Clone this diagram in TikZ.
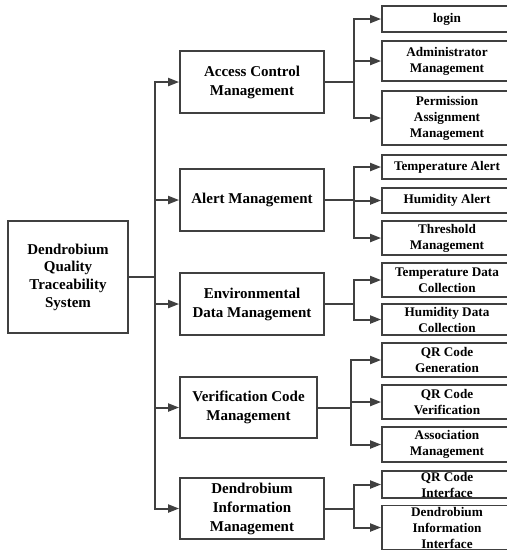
\documentclass[tikz,border=0pt]{standalone}
\usepackage{fontspec}
\setmainfont{Liberation Serif}
\usetikzlibrary{arrows.meta,positioning}

\begin{document}
\begin{tikzpicture}[
    x=1pt, y=-1pt,
    root/.style={rectangle, draw=black!75, line width=1.8pt, minimum width=120pt, minimum height=112pt, align=center, inner sep=0pt, font=\fontsize{15}{17.7}\selectfont\bfseries},
    module/.style={rectangle, draw=black!75, line width=1.8pt, minimum width=144pt, minimum height=62pt, align=center, inner sep=0pt, font=\fontsize{15}{19}\selectfont\bfseries},
    leaf/.style={rectangle, draw=black!75, line width=1.8pt, minimum width=130pt, align=center, inner sep=0pt, font=\fontsize{13.2}{16}\selectfont\bfseries},
    arr/.style={-{Triangle[length=11pt,width=8pt]}, line width=2pt, draw=black!75}
]
\useasboundingbox (0,0) rectangle (507,550);
\clip (0,0) rectangle (507,550);
% root
\node[root] (sys) at (68,277) {Dendrobium\\Quality\\Traceability\\System};
% modules
\node[module] (access) at (252,82) {Access Control\\Management};
\node[module] (alert) at (252,200) {Alert Management};
\node[module] (env) at (252,304) {Environmental\\Data Management};
\node[module, minimum width=137pt, minimum height=61pt] (verify) at (248.5,407.5) {Verification Code\\Management};
\node[module, minimum height=61pt] (info) at (252,508.5) {Dendrobium\\Information\\Management};
\draw[arr] (sys.east) -- ++(26,0) |- (access.west);
\draw[arr] (sys.east) -- ++(26,0) |- (alert.west);
\draw[arr] (sys.east) -- ++(26,0) |- (env.west);
\draw[arr] (sys.east) -- ++(26,0) |- (verify.west);
\draw[arr] (sys.east) -- ++(26,0) |- (info.west);
% access control
\node[leaf, minimum height=26pt] (login) at (447,19) {login};
\node[leaf, minimum height=40pt] (admin) at (447,61) {Administrator\\Management};
\node[leaf, minimum height=54pt] (perm) at (447,118) {Permission\\Assignment\\Management};
\draw[arr] (access.east) -- ++(29,0) |- (login.west);
\draw[arr] (access.east) -- ++(29,0) |- (admin.west);
\draw[arr] (access.east) -- ++(29,0) |- (perm.west);
% alert
\node[leaf, minimum height=24pt] (temp-alert) at (447,167) {Temperature Alert};
\node[leaf, minimum height=25pt] (hum-alert) at (447,200.5) {Humidity Alert};
\node[leaf, minimum height=34pt] (threshold) at (447,238) {Threshold\\Management};
\draw[arr] (alert.east) -- ++(29,0) |- (temp-alert.west);
\draw[arr] (alert.east) -- ++(29,0) |- (hum-alert.west);
\draw[arr] (alert.east) -- ++(29,0) |- (threshold.west);
% environmental data
\node[leaf, minimum height=34pt] (temp-data) at (447,280) {Temperature Data\\Collection};
\node[leaf, minimum height=31pt] (hum-data) at (447,319.5) {Humidity Data\\Collection};
\draw[arr] (env.east) -- ++(29,0) |- (temp-data.west);
\draw[arr] (env.east) -- ++(29,0) |- (hum-data.west);
% verification code
\node[leaf, minimum height=34pt] (qr-gen) at (447,360) {QR Code\\Generation};
\node[leaf, minimum height=34pt] (qr-verify) at (447,402) {QR Code\\Verification};
\node[leaf, minimum height=35pt] (assoc) at (447,444.5) {Association\\Management};
\draw[arr] (verify.east) -- ++(33,0) |- (qr-gen.west);
\draw[arr] (verify.east) -- ++(33,0) |- (qr-verify.west);
\draw[arr] (verify.east) -- ++(33,0) |- (assoc.west);
% dendrobium information
\node[leaf, minimum height=27pt] (qr-if) at (447,484.5) {QR Code\\Interface};
\node[leaf, minimum height=44pt] (info-if) at (447,527.5) {Dendrobium\\Information\\Interface};
\draw[arr] (info.east) -- ++(29,0) |- (qr-if.west);
\draw[arr] (info.east) -- ++(29,0) |- (info-if.west);
\end{tikzpicture}
\end{document}
